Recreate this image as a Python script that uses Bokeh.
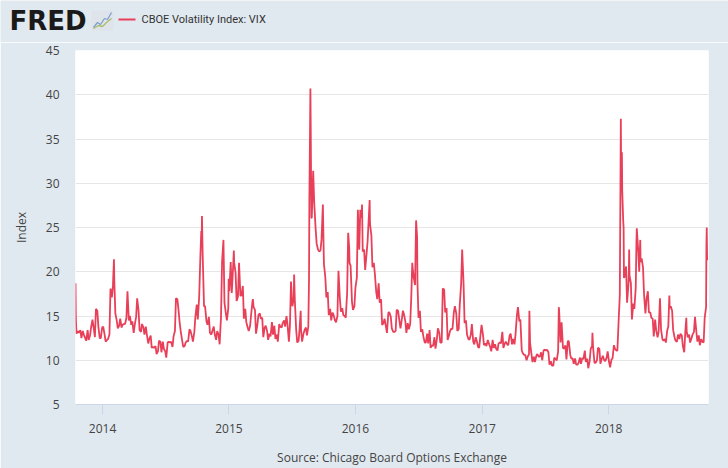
import numpy as np
import pandas as pd
from bokeh.plotting import figure
from bokeh.layouts import column, row
from bokeh.models import FixedTicker, DatetimeTickFormatter, Range1d, ColumnDataSource
from bokeh.core.properties import value
from bokeh.embed import file_html
from bokeh.resources import INLINE

# ---- data: CBOE Volatility Index (VIX) ----
# Friday values, one per week, starting Friday 2013-10-18
fri_2013 = [13.0, 13.1,                        # Oct
            12.5, 12.9, 12.2, 12.3, 13.7,      # Nov
            13.8, 15.8, 13.8, 12.5]            # Dec
fri_2014 = [13.8, 12.1, 12.4, 18.1, 18.4,      # Jan
            15.3, 13.6, 14.7, 14.0,            # Feb
            14.1, 17.8, 15.0, 14.4,            # Mar
            14.0, 17.0, 13.4, 14.1,            # Apr
            12.9, 12.9, 12.4, 11.4, 11.4,      # May
            10.7, 12.2, 10.9, 11.3,            # Jun
            10.3, 12.1, 12.1, 12.7,            # Jul
            17.0, 15.8, 13.2, 11.5, 12.0,      # Aug
            12.1, 13.3, 12.1, 14.9,            # Sep
            14.6, 21.2, 22.0, 16.1, 14.0,      # Oct
            13.1, 13.3, 12.9, 13.3,            # Nov
            11.8, 21.1, 16.5, 14.5]            # Dec
fri_2015 = [17.8, 17.6, 21.0, 16.7, 21.0,      # Jan
            17.3, 14.7, 14.3, 13.3,            # Feb
            15.2, 16.0, 13.0, 15.1,            # Mar
            14.7, 12.6, 13.9, 12.3,            # Apr
            12.7, 12.9, 12.4, 12.1, 13.8,      # May
            14.2, 13.8, 14.0, 14.0,            # Jun
            16.1, 16.8, 12.0, 13.7, 12.1,      # Jul
            13.4, 12.8, 28.0, 26.1,            # Aug
            27.8, 23.2, 22.3, 23.6,            # Sep
            20.9, 17.1, 15.1, 14.5, 15.1,      # Oct
            14.3, 20.1, 15.5, 15.1,            # Nov
            14.8, 24.4, 20.7, 15.7]            # Dec
fri_2016 = [18.2, 27.0, 27.0, 22.3, 20.2,      # Jan
            23.4, 25.4, 20.5, 19.8,            # Feb
            16.9, 16.5, 14.0, 14.7,            # Mar
            13.1, 15.4, 13.6, 13.2, 15.7,      # Apr
            14.7, 14.4, 15.2, 13.1,            # May
            13.5, 17.0, 19.4, 25.8,            # Jun
            14.8, 13.2, 12.7, 12.0, 11.9,      # Jul
            11.4, 11.6, 11.3, 13.6,            # Aug
            12.0, 18.1, 15.4, 12.3, 13.3,      # Sep
            13.5, 16.1, 13.3, 16.2,            # Oct
            22.5, 14.2, 12.9, 12.3,            # Nov
            14.1, 11.8, 12.2, 11.4, 14.0]      # Dec
fri_2017 = [11.7, 11.6, 11.9, 11.0,            # Jan
            11.4, 11.3, 11.9, 11.9,            # Feb
            11.4, 12.1, 11.7, 13.0, 12.4,      # Mar
            12.9, 16.0, 14.6, 10.8,            # Apr
            10.6, 10.4, 12.0, 9.8,             # May
            9.8, 10.7, 10.4, 10.0, 11.2,       # Jun
            11.2, 9.5, 9.4, 10.3,              # Jul
            10.0, 15.5, 14.3, 11.3,            # Aug
            10.1, 12.1, 10.2, 9.6, 9.5,        # Sep
            9.7, 9.6, 10.1, 9.8,               # Oct
            9.1, 11.3, 11.4, 9.7,              # Nov
            11.4, 9.6, 10.5, 9.9, 11.0]        # Dec
fri_2018 = [9.2, 10.2, 11.3, 11.1,             # Jan
            17.3, 29.1, 19.5, 16.5,            # Feb
            19.6, 14.6, 15.8, 24.9, 20.0,      # Mar
            21.5, 17.4, 16.9, 15.4,            # Apr
            14.8, 12.7, 13.4, 13.2,            # May
            13.5, 12.2, 12.0, 13.8, 16.1,      # Jun
            13.4, 12.2, 12.9, 13.0,            # Jul
            11.6, 13.2, 12.6, 12.0, 12.9,      # Aug
            14.9, 12.1, 11.7, 12.1,            # Sep
            14.8, 21.3]                        # Oct

# Tuesday values, the Tuesday before each Friday above
tue_2013 = [18.7, 13.3,
            13.4, 13.3, 12.5, 13.4, 12.8,
            14.6, 12.6, 15.6, 12.5]
tue_2014 = [13.7, 12.9, 12.3, 12.9, 17.1,
            19.0, 14.5, 13.9, 13.7,
            14.1, 14.8, 14.5, 14.0,
            13.1, 14.9, 15.6, 13.2,
            13.7, 13.8, 11.9, 12.8, 11.5,
            11.6, 11.0, 12.1, 12.1,
            11.0, 12.0, 12.0, 11.5,
            13.3, 16.9, 14.1, 12.2, 11.6,
            12.2, 13.5, 12.7, 13.2,
            16.3, 17.2, 22.8, 16.1, 14.4,
            14.9, 12.9, 13.8, 12.3,
            12.9, 14.9, 23.6, 15.3]
tue_2015 = [15.9, 21.1, 20.6, 19.9, 17.2,
            17.3, 18.4, 15.8, 13.7,
            13.9, 16.7, 15.7, 14.0,
            15.3, 14.8, 13.7, 13.3,
            13.0, 14.3, 13.9, 12.9, 14.1,
            13.7, 14.5, 15.0, 12.1,
            18.2, 17.0, 13.4, 12.2, 13.4,
            13.0, 13.7, 13.8, 36.0,
            31.4, 24.9, 22.5, 22.4,
            27.6, 19.4, 17.7, 15.8, 15.4,
            14.5, 15.0, 17.0, 15.9,
            15.0, 17.6, 21.0, 16.6]
tue_2016 = [16.1, 19.3, 22.5, 26.1, 22.5,
            22.0, 26.5, 24.1, 21.0,
            17.7, 18.7, 16.9, 14.2,
            13.8, 15.4, 14.9, 13.2, 13.3,
            15.6, 13.6, 15.6, 14.4,
            14.2, 14.1, 20.5, 18.5,
            18.8, 15.6, 13.5, 12.0, 13.0,
            13.4, 11.7, 12.6, 12.4,
            13.1, 12.0, 18.0, 15.9, 12.8,
            13.6, 15.4, 15.3, 13.5,
            18.6, 18.7, 14.5, 12.4,
            12.9, 12.1, 12.6, 11.5, 12.9]
tue_2017 = [12.9, 11.9, 12.3, 11.5,
            12.3, 11.8, 11.1, 12.0,
            13.2, 11.9, 11.8, 12.8, 11.8,
            11.8, 15.1, 14.4, 11.1,
            10.6, 10.0, 10.7, 10.7,
            10.4, 10.5, 10.4, 10.9, 11.1,
            11.1, 10.9, 9.9, 9.4,
            10.1, 11.0, 12.0, 11.4,
            11.7, 12.2, 10.6, 10.2, 10.2,
            9.5, 10.3, 10.3, 11.1,
            10.2, 9.9, 11.6, 9.7,
            10.0, 11.3, 10.2, 10.0, 10.3]
tue_2018 = [9.8, 10.1, 11.7, 11.1,
            14.8, 30.0, 25.0, 20.6,
            18.6, 18.7, 16.4, 18.2, 22.5,
            21.1, 20.5, 15.3, 17.8,
            15.4, 14.7, 14.6, 12.6,
            17.0, 12.4, 12.4, 13.4, 15.9,
            15.6, 12.6, 12.1, 12.4,
            12.8, 10.9, 13.3, 12.9, 12.5,
            13.2, 13.2, 12.8, 12.4,
            12.0, 16.0]

# individual days around the spikes
spike_dates = ["2013-10-15", "2013-10-16", "2014-02-03", "2014-10-13", "2014-10-15",
               "2014-12-16", "2014-12-31", "2015-01-06", "2015-01-15", "2015-03-11",
               "2015-06-29", "2015-07-08", "2015-07-27", "2015-08-20", "2015-08-24",
               "2015-08-25", "2015-08-26", "2015-08-27", "2015-09-01", "2015-09-29",
               "2015-12-14", "2016-01-20", "2016-02-11", "2016-06-13", "2016-06-27",
               "2017-05-17", "2017-08-10", "2017-11-15", "2018-01-30", "2018-02-05",
               "2018-02-06", "2018-02-08", "2018-02-12", "2018-02-14", "2018-02-28",
               "2018-03-01", "2018-03-22", "2018-04-02", "2018-05-29", "2018-06-25",
               "2018-08-13", "2018-10-10", "2018-10-11"]
spike_vals = [18.7, 14.7, 21.4, 24.6, 26.3,
              23.6, 19.2, 21.1, 22.4, 16.9,
              18.9, 19.7, 15.6, 19.1, 40.7,
              36.0, 30.3, 26.1, 31.4, 27.6,
              22.7, 27.6, 28.1, 21.0, 23.9,
              15.6, 16.0, 13.1, 14.8, 37.3,
              30.0, 33.5, 25.6, 19.3, 19.9,
              22.5, 23.3, 23.6, 17.0, 17.3,
              14.8, 23.0, 25.0]

y_ticks = [5, 10, 15, 20, 25, 30, 35, 40, 45]
year_ticks = ["2014-01-01", "2015-01-01", "2016-01-01", "2017-01-01", "2018-01-01"]
series_name = "CBOE Volatility Index: VIX"
y_label = "Index"
source_note = "Source: Chicago Board Options Exchange"

# ---- assemble the daily series ----
fri_vals = fri_2013 + fri_2014 + fri_2015 + fri_2016 + fri_2017 + fri_2018
tue_vals = tue_2013 + tue_2014 + tue_2015 + tue_2016 + tue_2017 + tue_2018
fri_dates = pd.date_range("2013-10-18", periods=len(fri_vals), freq="W-FRI")
tue_dates = fri_dates[:len(tue_vals)] - pd.Timedelta(days=3)
spikes = pd.Series(spike_vals, index=pd.to_datetime(spike_dates))
regular = pd.concat([pd.Series(fri_vals, index=fri_dates), pd.Series(tue_vals, index=tue_dates)])
regular = regular[~regular.index.isin(spikes.index)]
series = pd.concat([regular, spikes]).sort_index()
source = ColumnDataSource(dict(date=series.index, vix=series.values))

BG = "#e1e9f0"
RED = "#e9405a"
TXT = "#444444"
FONT = "Open Sans"

# ---- header strip: FRED logo + legend (its own full-width frame) ----
hdr = figure(width=728, height=42, output_backend="svg", toolbar_location=None,
             x_range=Range1d(0, 728), y_range=Range1d(42, 0),
             x_axis_location=None, y_axis_location=None, min_border=0)
hdr.background_fill_color = BG
hdr.border_fill_color = BG
hdr.outline_line_color = None
hdr.grid.visible = False
hdr.text(x=[9], y=[20], text=["FRED"], text_font=value("DejaVu Sans"),
         text_font_style="bold", text_font_size="26px", text_color="#1a1a1a",
         text_baseline="middle", text_align="left")
hdr.quad(left=[91], right=[113], top=[10], bottom=[30], fill_color="#dfe4ea", line_color=None)
hdr.line(x=[93, 97, 100, 104, 107, 111], y=[27, 22, 24, 18, 19, 12], line_color="#7f9fcc", line_width=1.3)
hdr.line(x=[93, 98, 102, 106, 111], y=[28, 25, 26, 22, 18], line_color="#a9bd6c", line_width=1.3)
hdr.line(x=[118, 135], y=[19, 19], line_color=RED, line_width=2)
hdr.text(x=[141], y=[19], text=[series_name], text_font=value("Roboto"),
         text_font_size="11px", text_color="#333333",
         text_baseline="middle", text_align="left")

# ---- main chart ----
p = figure(width=728, height=426, output_backend="svg", toolbar_location=None,
           x_axis_type="datetime",
           x_range=Range1d(pd.Timestamp("2013-10-15"), pd.Timestamp("2018-10-16")),
           y_range=Range1d(5, 45),
           min_border_left=75, min_border_right=20, min_border_top=8, min_border_bottom=57)
p.background_fill_color = "white"
p.border_fill_color = BG
p.outline_line_color = None

p.line("date", "vix", source=source, line_color=RED, line_width=1.8)

p.yaxis.ticker = FixedTicker(ticks=y_ticks)
p.yaxis.axis_line_color = None
p.yaxis.major_tick_line_color = None
p.yaxis.minor_tick_line_color = None
p.yaxis.major_label_standoff = 10
p.yaxis.major_label_text_font = FONT
p.yaxis.major_label_text_font_size = "12px"
p.yaxis.major_label_text_color = TXT
p.yaxis.axis_label = y_label
p.yaxis.axis_label_text_font = FONT
p.yaxis.axis_label_text_font_size = "12px"
p.yaxis.axis_label_text_font_style = "normal"
p.yaxis.axis_label_text_color = TXT
p.yaxis.axis_label_standoff = 13

p.xaxis.ticker = FixedTicker(ticks=[pd.Timestamp(t).value // 10**6 for t in year_ticks])
p.xaxis.formatter = DatetimeTickFormatter(years="%Y", months="%Y", days="%Y", hours="%Y")
p.xaxis.axis_line_color = "#ccd6eb"
p.xaxis.major_tick_line_color = "#ccd6eb"
p.xaxis.major_tick_out = 10
p.xaxis.major_tick_in = 0
p.xaxis.minor_tick_line_color = None
p.xaxis.major_label_standoff = 9
p.xaxis.major_label_text_font = FONT
p.xaxis.major_label_text_font_size = "12px"
p.xaxis.major_label_text_color = TXT
p.xaxis.axis_label = source_note
p.xaxis.axis_label_text_font = FONT
p.xaxis.axis_label_text_font_size = "12px"
p.xaxis.axis_label_text_font_style = "normal"
p.xaxis.axis_label_text_color = TXT
p.xaxis.axis_label_standoff = 13

p.xgrid.grid_line_color = None
p.ygrid.ticker = FixedTicker(ticks=y_ticks)
p.ygrid.grid_line_color = "#e6e6e6"

layout = column(row(hdr, spacing=0), p, spacing=0)
open("out.html", "w").write(file_html(layout, INLINE))
